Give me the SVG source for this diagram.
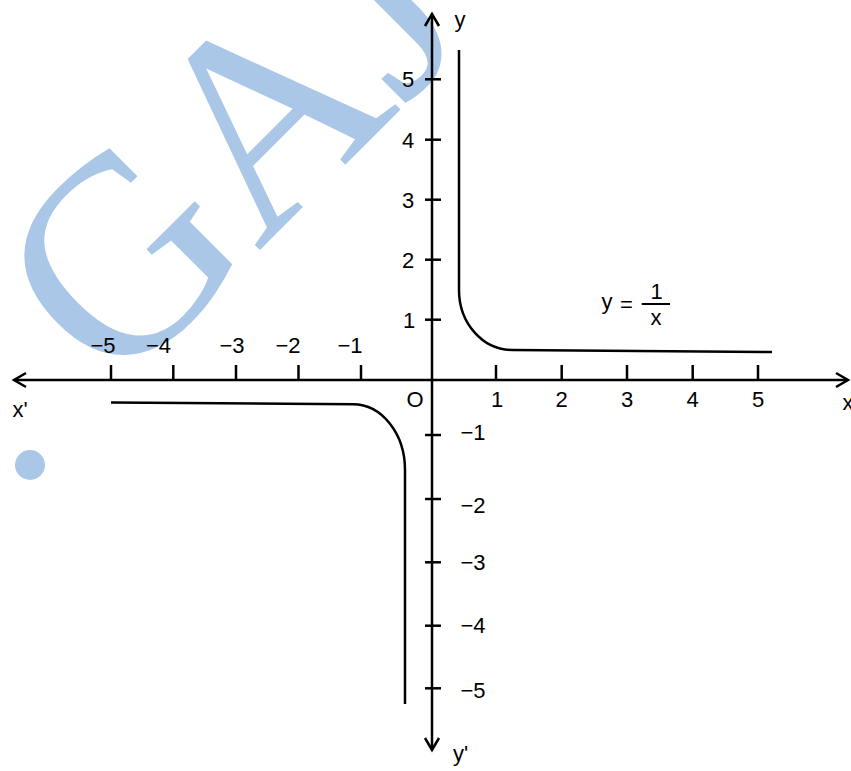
<svg xmlns="http://www.w3.org/2000/svg" width="851" height="771" viewBox="0 0 851 771">
<style>
.wm{fill:#aac7e8;font-family:"Liberation Serif","Times New Roman",serif;}
.ax{stroke:#000;stroke-width:2.5;fill:none;}
.tk{stroke:#000;stroke-width:2.5;}
.cv{stroke:#000;stroke-width:2.5;fill:none;}
.lb{font-family:"Liberation Sans",Arial,sans-serif;font-size:22px;fill:#000;}
.m{text-anchor:middle;}
</style>
<defs>
<marker id="arr" markerUnits="userSpaceOnUse" markerWidth="30" markerHeight="30" refX="0" refY="0" viewBox="-15 -15 30 30" orient="auto-start-reverse" overflow="visible">
<path d="M-12,-7 L0,0 L-12,7" fill="none" stroke="#000" stroke-width="2.5"/>
</marker>
</defs>
<rect width="851" height="771" fill="#fff"/>
<g id="watermark">
<text class="wm" font-size="282" transform="translate(114,396) rotate(-45)">GAJ</text>
<circle cx="30" cy="465" r="15" fill="#aac7e8"/>
</g>
<g id="axes">
<line class="ax" x1="14" y1="380" x2="848" y2="380" marker-start="url(#arr)" marker-end="url(#arr)"/>
<line class="ax" x1="432" y1="14" x2="432" y2="750" marker-start="url(#arr)" marker-end="url(#arr)"/>
</g>
<g id="ticks">
<line class="tk" x1="111" y1="365" x2="111" y2="380"/>
<line class="tk" x1="173.3" y1="365" x2="173.3" y2="380"/>
<line class="tk" x1="236" y1="365" x2="236" y2="380"/>
<line class="tk" x1="298.5" y1="365" x2="298.5" y2="380"/>
<line class="tk" x1="361" y1="365" x2="361" y2="380"/>
<line class="tk" x1="496" y1="365" x2="496" y2="380"/>
<line class="tk" x1="561.7" y1="365" x2="561.7" y2="380"/>
<line class="tk" x1="627" y1="365" x2="627" y2="380"/>
<line class="tk" x1="692.7" y1="365" x2="692.7" y2="380"/>
<line class="tk" x1="758" y1="365" x2="758" y2="380"/>
<line class="tk" x1="425" y1="79.3" x2="441" y2="79.3"/>
<line class="tk" x1="425" y1="139.7" x2="441" y2="139.7"/>
<line class="tk" x1="425" y1="199.7" x2="441" y2="199.7"/>
<line class="tk" x1="425" y1="259.7" x2="441" y2="259.7"/>
<line class="tk" x1="425" y1="319.7" x2="441" y2="319.7"/>
<line class="tk" x1="425" y1="435" x2="441" y2="435"/>
<line class="tk" x1="425" y1="499" x2="441" y2="499"/>
<line class="tk" x1="425" y1="562.3" x2="441" y2="562.3"/>
<line class="tk" x1="425" y1="625.7" x2="441" y2="625.7"/>
<line class="tk" x1="425" y1="688.3" x2="441" y2="688.3"/>
</g>
<g id="curves">
<path class="cv" d="M459,50 L459,290 A53,60 0 0 0 512,350 L772,352"/>
<path class="cv" d="M111,402.5 L353,404.3 A52,65.7 0 0 1 405,470 L405,704"/>
</g>
<g id="labels">
<text class="lb m" x="103" y="353">−5</text>
<text class="lb m" x="158.5" y="353">−4</text>
<text class="lb m" x="232" y="353">−3</text>
<text class="lb m" x="288" y="353">−2</text>
<text class="lb m" x="350" y="353">−1</text>
<text class="lb m" x="497" y="407">1</text>
<text class="lb m" x="561.7" y="407">2</text>
<text class="lb m" x="627" y="407">3</text>
<text class="lb m" x="692.7" y="407">4</text>
<text class="lb m" x="758" y="407">5</text>
<text class="lb m" x="408" y="87">5</text>
<text class="lb m" x="408" y="147.5">4</text>
<text class="lb m" x="408" y="207.5">3</text>
<text class="lb m" x="408" y="267.5">2</text>
<text class="lb m" x="409" y="327.5">1</text>
<text class="lb" x="460.5" y="440">−1</text>
<text class="lb" x="460.5" y="513">−2</text>
<text class="lb" x="460.5" y="570">−3</text>
<text class="lb" x="460.5" y="633">−4</text>
<text class="lb" x="460.5" y="698">−5</text>
<text class="lb m" x="415" y="407">O</text>
<text class="lb" x="12.5" y="416.5">x'</text>
<text class="lb" x="842.5" y="409.5">x</text>
<text class="lb" x="454.5" y="27">y</text>
<text class="lb" x="453" y="761">y'</text>
</g>
<g id="formula">
<text class="lb" x="601.5" y="308.5">y</text>
<text class="lb" x="620" y="312">=</text>
<line x1="641.7" y1="304" x2="670" y2="304" stroke="#000" stroke-width="2"/>
<text class="lb m" x="656.5" y="299">1</text>
<text class="lb m" x="656" y="325">x</text>
</g>
</svg>
